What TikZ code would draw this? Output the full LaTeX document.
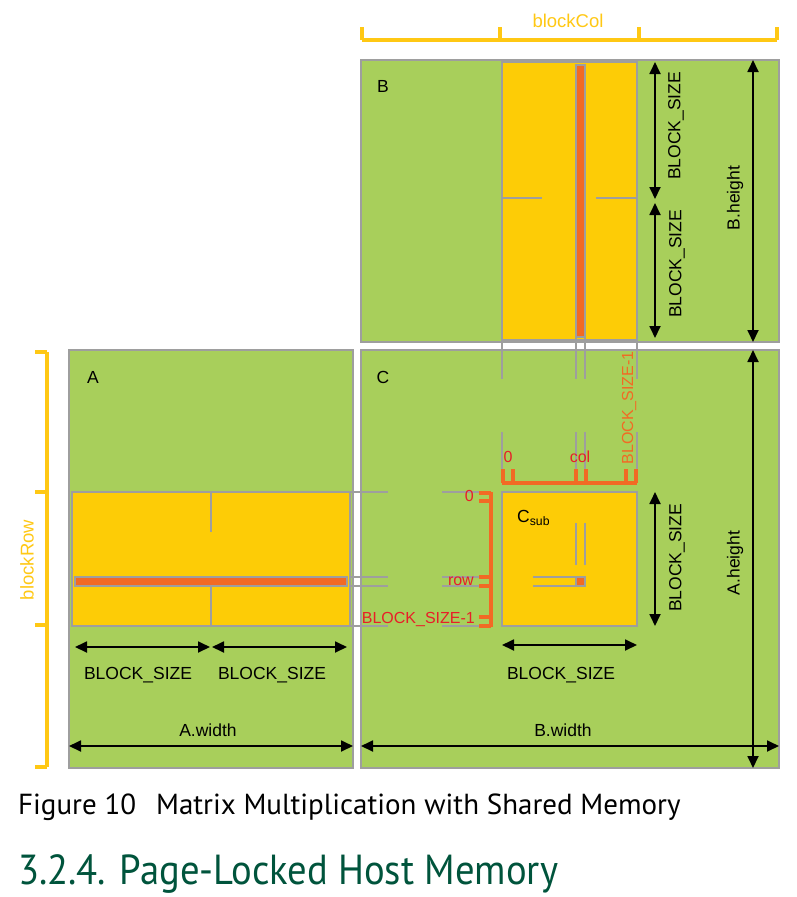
\documentclass[tikz,border=0pt]{standalone}
\usepackage{fontspec}
\setmainfont{Liberation Sans}
\newfontfamily\capfont{PT Sans}
\usetikzlibrary{ arrows.meta,  % For the dimension arrow tips
                 positioning,
               }
\definecolor{gridgreen}{RGB}{168,207,91}
\definecolor{tileyellow}{RGB}{253,204,6}
\definecolor{barorange}{RGB}{242,106,36}
\definecolor{linegray}{RGB}{158,158,158}
\definecolor{spangold}{RGB}{255,200,20}
\definecolor{idxred}{RGB}{232,30,40}
\definecolor{headgreen}{RGB}{0,84,60}

\tikzstyle{matbox} = [rectangle, draw=linegray, line width=1.8pt, fill=gridgreen, inner sep=0pt, outer sep=0pt, anchor=north west]
\tikzstyle{tilebox} = [matbox, fill=tileyellow]
\tikzstyle{barbox} = [matbox, fill=barorange]
\tikzstyle{guide} = [draw=linegray, line width=1.8pt]
\tikzstyle{dimarrow} = [{Triangle[length=12pt,width=11pt]}-{Triangle[length=12pt,width=11pt]}, line width=1.8pt]
\tikzstyle{idxbracket} = [draw=barorange, line width=3.5pt]
\tikzstyle{spanline} = [draw=spangold, line width=3.5pt]
\tikzstyle{dimlabel} = [font=\fontsize{17.5}{17}\selectfont, inner sep=0pt]
\tikzstyle{idxlabel} = [text=idxred, font=\fontsize{16}{16}\selectfont, inner sep=0pt]

\begin{document}
\begin{tikzpicture}[x=1pt, y=-1pt]
  \fill[white] (0,0) rectangle (796,897);
  \useasboundingbox (0,0) rectangle (796,897);

  % the three matrices
  \node (B) [matbox, minimum width=418pt, minimum height=282pt] at (361,60) {};
  \node (A) [matbox, minimum width=284pt, minimum height=418pt] at (69,350) {};
  \node (C) [matbox, minimum width=418pt, minimum height=418pt] at (361,350) {};
  \node (Bsub) [tilebox, minimum width=135pt, minimum height=278pt] at (502,62) {};
  \node (Asub) [tilebox, minimum width=278pt, minimum height=134pt] at (72,492) {};
  \node (Csub) [tilebox, minimum width=135pt, minimum height=134pt] at (502,492) {};

  % guide lines
  \draw[guide] (502,198) -- (542,198) (596,198) -- (637,198);
  \draw[guide] (211,492) -- (211,532) (211,586) -- (211,626);
  \foreach \gx in {502,576,585,637} {
    \draw[guide] (\gx,338) -- (\gx,379) (\gx,432) -- (\gx,469);
  }
  \foreach \gy in {492,577,586,626} {
    \draw[guide] (349,\gy) -- (388,\gy) (442,\gy) -- (479,\gy);
  }
  \draw[guide] (576,523) -- (576,565) (585,523) -- (585,565);
  \draw[guide] (533,577) -- (576,577) (533,586) -- (576,586);

  % row, column and element
  \node (Bbar) [barbox, minimum width=9pt, minimum height=272pt] at (576,65) {};
  \node (Abar) [barbox, minimum width=272pt, minimum height=9pt] at (75,577) {};
  \node (Celem) [barbox, minimum width=9pt, minimum height=9pt] at (576,577) {};

  % index brackets
  \draw[idxbracket] (502,483) -- (637,483);
  \foreach \tx in {503,513,576,586,626,636} {
    \draw[idxbracket] (\tx,469) -- (\tx,483);
  }
  \draw[idxbracket] (491,492) -- (491,627);
  \foreach \ty in {493,501,577,586,617,626} {
    \draw[idxbracket] (479,\ty) -- (491,\ty);
  }
  \node (col0) [idxlabel] at (508,457) {0};
  \node (colc) [idxlabel] at (580,457) {col};
  \node (colend) [idxlabel, text=barorange, rotate=90] at (629,408) {BLOCK\_SIZE-1};
  \node (row0) [idxlabel, anchor=east] at (474,496) {0};
  \node (rowr) [idxlabel, anchor=east] at (474,581) {row};
  \node (rowend) [idxlabel, anchor=east] at (475,619) {BLOCK\_SIZE-1};

  % block spans
  \draw[spanline] (362,40) -- (777,40);
  \foreach \sx in {362,500,639,777} {
    \draw[spanline] (\sx,27) -- (\sx,40);
  }
  \draw[spanline] (47,352) -- (47,767);
  \foreach \sy in {352,492,625,767} {
    \draw[spanline] (35,\sy) -- (47,\sy);
  }
  \node (blockcol) [dimlabel, text=spangold, font=\fontsize{18.5}{18}\selectfont] at (568,21) {blockCol};
  \node (blockrow) [dimlabel, text=spangold, font=\fontsize{18.5}{18}\selectfont, rotate=90] at (27,560) {blockRow};

  % dimensions
  \draw[dimarrow] ([xshift=18pt]Bsub.north east) -- ([xshift=18pt, yshift=2pt]Bsub.east);
  \draw[dimarrow] ([xshift=18pt, yshift=-2pt]Bsub.east) -- ([xshift=18pt, yshift=2pt]Bsub.south east);
  \draw[dimarrow] ([xshift=-26pt]B.north east) -- ([xshift=-26pt]B.south east);
  \draw[dimarrow] ([xshift=18pt]Csub.north east) -- ([xshift=18pt]Csub.south east);
  \draw[dimarrow] ([xshift=-26pt]C.north east) -- ([xshift=-26pt]C.south east);
  \draw[dimarrow] ([yshift=-19pt]Csub.south west) -- ([yshift=-19pt]Csub.south east);
  \draw[dimarrow] ([yshift=22pt]C.south west) -- ([yshift=22pt]C.south east);
  \draw[dimarrow] ([xshift=3pt, yshift=-21pt]Asub.south west) -- ([xshift=-1pt, yshift=-21pt]Asub.south);
  \draw[dimarrow] ([xshift=1pt, yshift=-21pt]Asub.south) -- ([xshift=-3pt, yshift=-21pt]Asub.south east);
  \draw[dimarrow] ([yshift=22pt]A.south west) -- ([yshift=22pt]A.south east);

  \node (bsz1) [dimlabel, rotate=90] at (676,126) {BLOCK\_SIZE};
  \node (bsz2) [dimlabel, rotate=90] at (677,264) {BLOCK\_SIZE};
  \node (bheight) [dimlabel, rotate=90] at (735,198) {B.height};
  \node (csz1) [dimlabel, rotate=90] at (677,558) {BLOCK\_SIZE};
  \node (aheight) [dimlabel, rotate=90] at (735,563) {A.height};
  \node (csz2) [dimlabel] at (561,675) {BLOCK\_SIZE};
  \node (bwidth) [dimlabel] at (563,730) {B.width};
  \node (asz1) [dimlabel] at (138,675) {BLOCK\_SIZE};
  \node (asz2) [dimlabel] at (272,675) {BLOCK\_SIZE};
  \node (awidth) [dimlabel] at (208,730) {A.width};

  \node (Bname) [dimlabel] at (383,86) {B};
  \node (Aname) [dimlabel] at (93,377) {A};
  \node (Cname) [dimlabel] at (383,377) {C};
  \node (Csubname) [dimlabel, anchor=west] at (517,518) {C\textsubscript{sub}};

  % caption and heading
  \node (caption) [anchor=base west, inner sep=0pt, font=\capfont\fontsize{29}{29}\selectfont] at (18,814)
    {\scalebox{1.0}[1]{Figure 10\hspace{20pt}Matrix Multiplication with Shared Memory}};
  \node (heading) [anchor=base west, inner sep=0pt, text=headgreen, font=\capfont\fontsize{42}{42}\selectfont] at (18,884)
    {\scalebox{0.92}[1]{3.2.4. Page-Locked Host Memory}};
\end{tikzpicture}
\end{document}
